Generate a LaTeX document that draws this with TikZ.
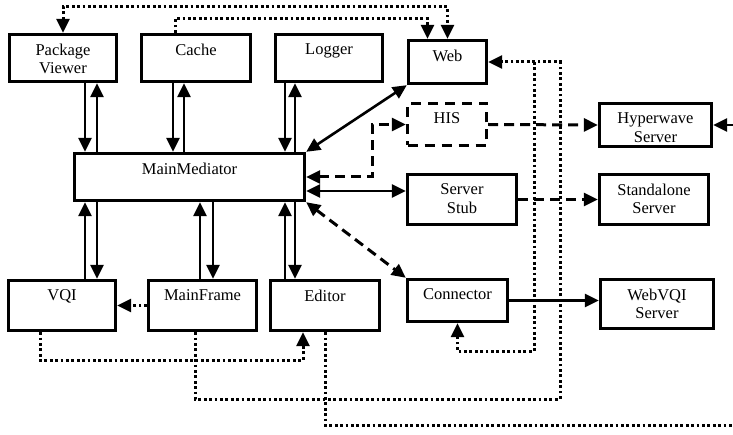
\documentclass[tikz,border=0pt]{standalone}
\usepackage{fontspec}
\setmainfont{Liberation Serif}
\usetikzlibrary{arrows.meta}
\begin{document}
\begin{tikzpicture}[x=1pt,y=-1pt,
  >={Triangle[length=14pt,width=13pt]},
  box/.style 2 args={draw,line width=3.4pt,minimum width=#1,minimum height=#2,inner sep=0pt},
  dbox/.style 2 args={box={#1}{#2},dash pattern=on 10pt off 7pt},
  txt/.style={label={[anchor=north,align=center,inner sep=0pt,yshift=-11pt,font=\fontsize{16.5}{18.5}\selectfont]north:{#1}}},
  sol/.style={line width=2.6pt},
  dsh/.style={line width=3pt,dash pattern=on 10pt off 6pt},
  dotl/.style={line width=3pt,dash pattern=on 2.8pt off 2.6pt}]
\useasboundingbox (0,0) rectangle (733,435);

% boxes
\node[box={107}{47},txt={Package\\Viewer}] (pv) at (63,58) {};
\node[box={109}{47},txt={Cache}] (cache) at (196,58) {};
\node[box={107}{47},txt={Logger}] (logger) at (329,58) {};
\node[box={78}{43},txt={Web}] (web) at (447.5,62) {};
\node[dbox={79}{42},txt={HIS}] (his) at (447,124.5) {};
\node[box={112}{43},txt={Hyperwave\\Server}] (hyper) at (655.5,125) {};
\node[box={230}{47},txt={MainMediator}] (mm) at (189.5,177) {};
\node[box={109}{50},txt={Server\\Stub}] (stub) at (462,199.5) {};
\node[box={109}{50},txt={Standalone\\Server}] (stand) at (654,199.5) {};
\node[box={107}{50},txt={VQI}] (vqi) at (62,305.5) {};
\node[box={108}{50},txt={MainFrame}] (mf) at (202.5,305.5) {};
\node[box={109}{50},txt={Editor}] (editor) at (325,305.5) {};
\node[box={100}{42},txt={Connector}] (conn) at (457.5,300.5) {};
\node[box={113}{49},txt={WebVQI\\Server}] (webvqi) at (657,304) {};

% free ends / junctions
\coordinate (hr) at (733,125);
\coordinate (er) at (733,425);
\coordinate (j1) at (534,62);
\coordinate (c3) at (560,399);

% vertical arrows top row
\draw[sol,->] ([xshift=22pt]pv.south) -- ([xshift=22pt]pv.south |- mm.north);
\draw[sol,<-] ([xshift=34pt]pv.south) -- ([xshift=34pt]pv.south |- mm.north);
\draw[sol,->] ([xshift=-23pt]cache.south) -- ([xshift=-23pt]cache.south |- mm.north);
\draw[sol,<-] ([xshift=-12pt]cache.south) -- ([xshift=-12pt]cache.south |- mm.north);
\draw[sol,->] ([xshift=-44pt]logger.south) -- ([xshift=-44pt]logger.south |- mm.north);
\draw[sol,<-] ([xshift=-34pt]logger.south) -- ([xshift=-34pt]logger.south |- mm.north);

% vertical arrows bottom row
\draw[sol,->] ([xshift=23pt]vqi.north) -- ([xshift=23pt]vqi.north |- mm.south);
\draw[sol,<-] ([xshift=35pt]vqi.north) -- ([xshift=35pt]vqi.north |- mm.south);
\draw[sol,->] ([xshift=-2.5pt]mf.north) -- ([xshift=-2.5pt]mf.north |- mm.south);
\draw[sol,<-] ([xshift=10.5pt]mf.north) -- ([xshift=10.5pt]mf.north |- mm.south);
\draw[sol,->] ([xshift=-40pt]editor.north) -- ([xshift=-40pt]editor.north |- mm.south);
\draw[sol,<-] ([xshift=-30pt]editor.north) -- ([xshift=-30pt]editor.north |- mm.south);

% right-hand connections of MainMediator
\draw[sol,<->] (mm.north east) -- (web.south west);
\draw[dsh,<->] (mm.east) -- ++(66,0) |- (his.west);
\draw[sol,<->] ([yshift=-14pt]mm.east) -- ([yshift=-14pt]mm.east -| stub.west);
\draw[dsh,<->] (mm.south east) -- (conn.north west);

% servers
\draw[dsh,->] (his.east) -- (hyper.west);
\draw[dsh,->] (stub.east) -- (stand.west);
\draw[sol,->] (hr) -- (hyper.east);
\draw[sol,->] (conn.east) -- (conn.east -| webvqi.west);

% dotted connections
\draw[dotl,<->] (pv.north) -- ++(0,-26) -| (web.north);
\draw[dotl,->] ([xshift=-21pt]cache.north) -- ++(0,-14) -| ([xshift=-20pt]web.north);
\draw[dotl,->] ([xshift=-7.5pt]mf.south) |- (c3) |- (web.east);
\draw[dotl,->] (j1) |- ([yshift=-28pt]conn.south) -- (conn.south);
\draw[dotl,->] ([xshift=-22pt]vqi.south) -- ++(0,28) -| ([xshift=-22pt]editor.south);
\draw[dotl] (editor.south) |- (er);
\draw[dotl,->] (mf.west) -- (vqi.east);
\end{tikzpicture}
\end{document}
